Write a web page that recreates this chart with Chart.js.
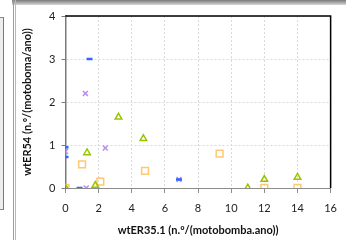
<!DOCTYPE html>
<html>
<head>
<meta charset="utf-8">
<script src="https://cdn.jsdelivr.net/npm/chart.js@4/dist/chart.umd.min.js"></script>
<style>
html,body{margin:0;padding:0;background:#fff;}
#wrap{position:relative;width:346px;height:240px;overflow:hidden;}
canvas{position:absolute;left:0;top:0;}
.deco{position:absolute;}
</style>
</head>
<body>
<div id="wrap">
<canvas id="c" width="346" height="240"></canvas>
<div class="deco" style="left:12px;top:0;width:334px;height:5px;background:linear-gradient(#7a7a7a,#a8a8a8 50%,#d8d8d8);"></div>
<div class="deco" style="left:13px;top:0;width:1px;height:240px;background:#9a9a9a;"></div>
<div class="deco" style="left:15px;top:0;width:1px;height:240px;background:#b8b8b8;"></div>
<div class="deco" style="left:0;top:17px;width:3px;height:191px;background:#ededed;border-top:1px solid #8a8a8a;border-bottom:1px solid #8a8a8a;border-right:1px solid #7a7a7a;"></div>
</div>
<script>
// Data
const blueX   = [1.45, 0, 0, 0.85, 6.85];
const blueY   = [3.0, 0.95, 0.72, 0.0, 0.2];
const purpleX = [1.2, 0, 1.25, 2.4, 6.85];
const purpleY = [2.2, 0.85, 0.0, 0.93, 0.2];
const greenX  = [3.2, 4.7, 1.3, 1.8, 0, 11, 12, 14];
const greenY  = [1.65, 1.15, 0.82, 0.06, 0.0, 0.0, 0.2, 0.25];
const orangeX = [0, 1, 2.1, 4.8, 9.3, 12, 14];
const orangeY = [0, 0.55, 0.15, 0.4, 0.8, 0, 0];
const xTicks  = [0, 2, 4, 6, 8, 10, 12, 14, 16];
const yTicks  = [0, 1, 2, 3, 4];
const xTitle  = 'wtER35.1 (n.º/(motobomba.ano))';
const yTitle  = 'wtER54 (n.º/(motoboma/ano))';

const pts = (xs, ys) => xs.map((x, i) => ({x, y: ys[i]}));

const frame = {
  id: 'frame',
  beforeDatasetsDraw(chart) {
    const {ctx, chartArea: a} = chart;
    ctx.save();
    ctx.strokeStyle = '#000';
    ctx.lineWidth = 1.5;
    ctx.beginPath();
    ctx.moveTo(a.left, a.top);
    ctx.lineTo(a.right, a.top);
    ctx.lineTo(a.right, a.bottom);
    ctx.stroke();
    ctx.restore();
  }
};

const FONT = "Lato, 'Liberation Sans', sans-serif";

new Chart(document.getElementById('c'), {
  type: 'scatter',
  data: {
    datasets: [
      {data: pts(blueX, blueY), pointStyle: 'line', radius: 3, borderWidth: 2.5,
       borderColor: '#3366ff', backgroundColor: '#3366ff'},
      {data: pts(purpleX, purpleY), pointStyle: 'crossRot', radius: 3.5, borderWidth: 1.5,
       borderColor: '#b98cf5', backgroundColor: '#b98cf5'},
      {data: pts(greenX, greenY), pointStyle: 'triangle', radius: 3.8, borderWidth: 1.5,
       borderColor: '#99c400', backgroundColor: 'rgba(0,0,0,0)'},
      {data: pts(orangeX, orangeY), pointStyle: 'rect', radius: 4.8, borderWidth: 1.5,
       borderColor: '#ffc870', backgroundColor: 'rgba(0,0,0,0)'}
    ]
  },
  options: {
    responsive: false,
    animation: false,
    layout: {padding: {left: 17, top: 16, right: 5, bottom: 0}},
    plugins: {legend: {display: false}, tooltip: {enabled: false}},
    scales: {
      x: {
        type: 'linear', min: 0, max: 16,
        afterBuildTicks: s => { s.ticks = xTicks.map(v => ({value: v})); },
        afterFit: s => { s.height = 52; },
        grid: {color: '#d9d9d9', tickColor: '#8c8c8c', tickLength: 5, tickBorderDash: []},
        border: {color: '#8c8c8c', width: 1, dash: [2, 2]},
        ticks: {color: '#222', font: {family: FONT, size: 11}, padding: 9, maxRotation: 0},
        title: {display: true, text: xTitle, color: '#111',
                font: {family: FONT, size: 11, weight: 'bold'}, padding: {top: 0, bottom: 3}}
      },
      y: {
        type: 'linear', min: 0, max: 4,
        afterBuildTicks: s => { s.ticks = yTicks.map(v => ({value: v})); },
        afterFit: s => { s.width = 48.5; },
        grid: {color: '#d9d9d9', tickColor: '#7a7a7a', tickLength: 4, tickBorderDash: []},
        border: {color: '#7a7a7a', width: 1.5, dash: [2, 2]},
        ticks: {color: '#222', font: {family: FONT, size: 11}, padding: 6},
        title: {display: true, text: yTitle, color: '#111',
                font: {family: FONT, size: 11, weight: 'bold'}, padding: {top: 4, bottom: 0}}
      }
    }
  },
  plugins: [frame]
});
</script>
</body>
</html>
